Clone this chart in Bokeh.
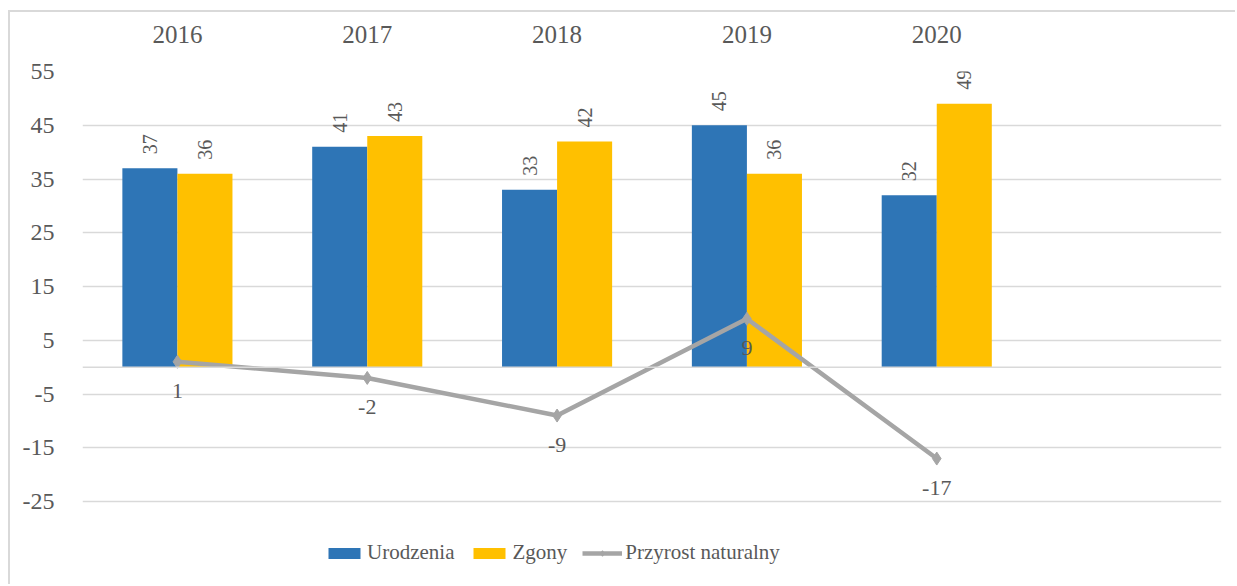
from bokeh.plotting import figure
from bokeh.models import (ColumnDataSource, FactorRange, Range1d, FixedTicker, Span,
                          Legend, LegendItem)
from bokeh.transform import dodge
from bokeh.core.properties import value
from bokeh.embed import file_html
from bokeh.resources import INLINE
import math

years = ["2016", "2017", "2018", "2019", "2020"]
urodzenia = [37, 41, 33, 45, 32]
zgony = [36, 43, 42, 36, 49]
przyrost = [1, -2, -9, 9, -17]
y_ticks = [-25, -15, -5, 5, 15, 25, 35, 45, 55]

FONT = "Liberation Serif"
TXT = "#595959"
BLUE = "#2E75B6"
ORANGE = "#FFC000"
GRAY = "#A5A5A5"
GRID = "#D9D9D9"

src = ColumnDataSource(dict(
    year=years,
    uro=urodzenia,
    zg=zgony,
    prz=przyrost,
    uro_t=[str(v) for v in urodzenia],
    zg_t=[str(v) for v in zgony],
    prz_t=[str(v) for v in przyrost],
))

# y range extended below -25 to leave room for the legend inside the frame
p = figure(width=1227, height=574,
           x_range=FactorRange(factors=years + [" "], range_padding=0),
           y_range=Range1d(-40.8, 55),
           x_axis_location="above",
           output_backend="svg", toolbar_location=None,
           min_border_left=72, min_border_right=16,
           min_border_top=59, min_border_bottom=0)
p.styles = {"border-left": "2px solid #D9D9D9", "border-top": "2px solid #D9D9D9",
            "margin-left": "8px", "margin-top": "10px"}
p.outline_line_color = None
p.background_fill_color = "white"
p.border_fill_color = "white"

bw = 0.29
r_uro = p.vbar(x=dodge("year", -bw / 2, range=p.x_range), top="uro", bottom=0,
               width=bw, source=src, fill_color=BLUE, line_color=None)
r_zg = p.vbar(x=dodge("year", bw / 2, range=p.x_range), top="zg", bottom=0,
              width=bw, source=src, fill_color=ORANGE, line_color=None)

p.add_layout(Span(location=0, dimension="width", line_color=GRID, line_width=1.5))

r_line = p.line(x="year", y="prz", source=src, line_color=GRAY, line_width=4.5)
r_mark = p.scatter(x="year", y="prz", source=src, marker="diamond", size=13,
                   fill_color=GRAY, line_color=GRAY)

# bar labels (rotated)
p.text(x=dodge("year", -bw / 2, range=p.x_range), y="uro", text="uro_t", source=src,
       angle=math.pi / 2, text_align="left", text_baseline="middle",
       y_offset=-14, text_font=value(FONT), text_font_size="20px", text_color=TXT)
p.text(x=dodge("year", bw / 2, range=p.x_range), y="zg", text="zg_t", source=src,
       angle=math.pi / 2, text_align="left", text_baseline="middle",
       y_offset=-14, text_font=value(FONT), text_font_size="20px", text_color=TXT)
# line labels
p.text(x="year", y="prz", text="prz_t", source=src,
       text_align="center", text_baseline="middle", y_offset=29,
       text_font=value(FONT), text_font_size="22px", text_color=TXT)

# axes
p.xaxis.axis_line_color = None
p.xaxis.major_tick_line_color = None
p.xaxis.minor_tick_line_color = None
p.xaxis.major_label_text_font = FONT
p.xaxis.major_label_text_font_size = "25px"
p.xaxis.major_label_text_color = TXT
p.xaxis.major_label_standoff = 18
p.xgrid.grid_line_color = None

p.yaxis.ticker = FixedTicker(ticks=y_ticks)
p.yaxis.major_label_overrides = {t: str(t) for t in y_ticks}
p.yaxis.axis_line_color = None
p.yaxis.major_tick_line_color = None
p.yaxis.minor_tick_line_color = None
p.yaxis.major_label_text_font = FONT
p.yaxis.major_label_text_font_size = "24px"
p.yaxis.major_label_text_color = TXT
p.yaxis.major_label_standoff = 22
p.ygrid.ticker = FixedTicker(ticks=y_ticks)
p.ygrid.grid_line_color = GRID
p.ygrid.grid_line_width = 1.5

legend = Legend(items=[
    LegendItem(label="Urodzenia", renderers=[r_uro]),
    LegendItem(label="Zgony", renderers=[r_zg]),
    LegendItem(label="Przyrost naturalny", renderers=[r_line, r_mark]),
], location=(242, 21), orientation="horizontal")
legend.label_text_font = FONT
legend.label_text_font_size = "21px"
legend.label_text_color = TXT
legend.glyph_width = 40
legend.glyph_height = 14
legend.spacing = 15
legend.label_standoff = 3
legend.padding = 0
legend.margin = 0
legend.border_line_color = None
legend.background_fill_alpha = 0
p.add_layout(legend, "center")

open("out.html", "w").write(file_html(p, INLINE))
